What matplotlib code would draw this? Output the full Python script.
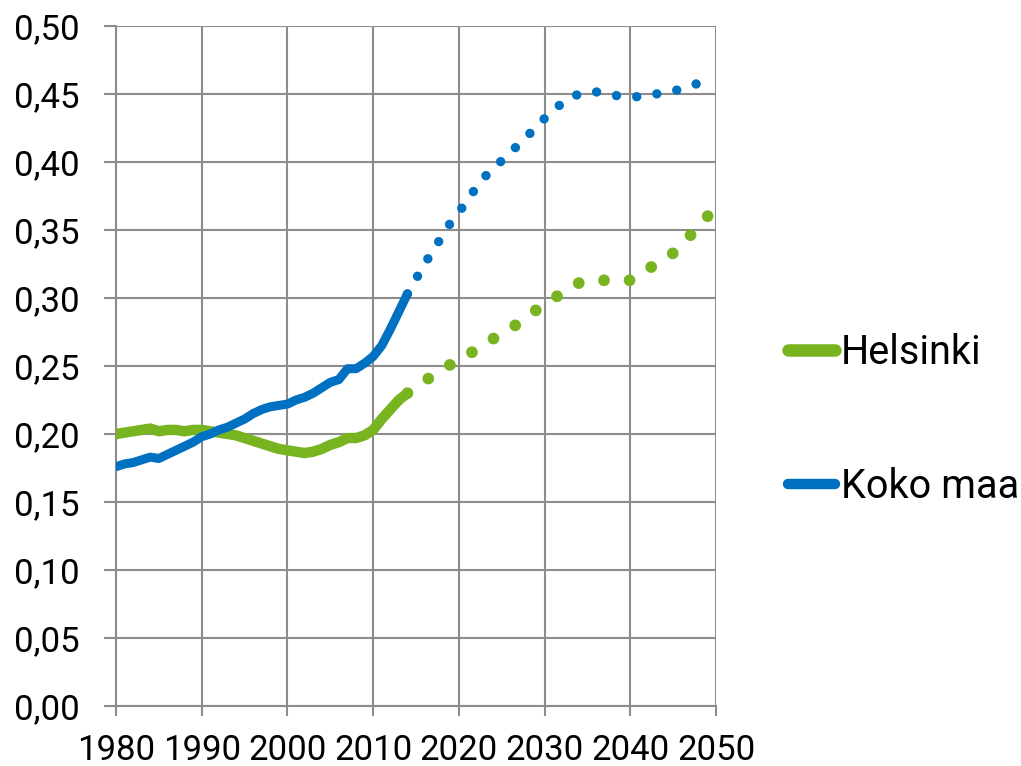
import matplotlib
matplotlib.use('Agg')
import matplotlib.pyplot as plt
from matplotlib.ticker import FuncFormatter
from matplotlib.lines import Line2D

# observed, 1980-2014
years_obs = list(range(1980, 2015))
helsinki_obs = [0.200, 0.201, 0.202, 0.203, 0.204, 0.202, 0.203, 0.203, 0.202, 0.203,
                0.203, 0.202, 0.201, 0.200, 0.199, 0.197, 0.195, 0.193, 0.191, 0.189,
                0.188, 0.187, 0.186, 0.187, 0.189, 0.192, 0.194, 0.197, 0.197, 0.199,
                0.203, 0.211, 0.218, 0.225, 0.230]
koko_obs = [0.176, 0.178, 0.179, 0.181, 0.183, 0.182, 0.185, 0.188, 0.191, 0.194,
            0.198, 0.200, 0.203, 0.205, 0.208, 0.211, 0.215, 0.218, 0.220, 0.221,
            0.222, 0.225, 0.227, 0.230, 0.234, 0.238, 0.240, 0.248, 0.248, 0.252,
            0.257, 0.265, 0.277, 0.290, 0.303]

# projections
years_helsinki_proj = list(range(2014, 2051))
helsinki_proj = [0.230, 0.235, 0.239, 0.243, 0.247, 0.251, 0.255, 0.258, 0.262, 0.266,
                 0.270, 0.274, 0.277, 0.282, 0.287, 0.291, 0.295, 0.299, 0.304, 0.308,
                 0.311, 0.312, 0.313, 0.313, 0.313, 0.313, 0.313, 0.317, 0.321, 0.325,
                 0.329, 0.333, 0.339, 0.346, 0.353, 0.360, 0.366]
years_koko_proj = list(range(2014, 2050))
koko_proj = [0.303, 0.314, 0.325, 0.335, 0.345, 0.355, 0.363, 0.372, 0.381, 0.389,
             0.395, 0.401, 0.407, 0.413, 0.419, 0.426, 0.432, 0.438, 0.443, 0.447,
             0.450, 0.451, 0.4515, 0.451, 0.449, 0.4485, 0.448, 0.448, 0.449, 0.450,
             0.451, 0.452, 0.454, 0.456, 0.458, 0.459]

labels = ['Helsinki', 'Koko maa']
green = '#78B41F'
blue = '#0070C0'
grid_col = '#8C8C8C'

plt.rcParams['font.family'] = ['Roboto', 'DejaVu Sans']

fig = plt.figure(figsize=(10.21, 7.66), dpi=100)
ax = fig.add_axes([0.1136, 0.0783, 0.5877, 0.8878])

ax.plot(years_obs, helsinki_obs, color=green, lw=7.5, solid_capstyle='round',
        solid_joinstyle='round', zorder=3)
ax.plot(years_obs, koko_obs, color=blue, lw=6.5, solid_capstyle='round',
        solid_joinstyle='round', zorder=4)
ax.plot(years_helsinki_proj, helsinki_proj, color=green, lw=8.5, linestyle=(0, (0.001, 2.16)),
        dash_capstyle='round', zorder=3, clip_on=False)
ax.plot(years_koko_proj, koko_proj, color=blue, lw=6.8, linestyle=(0, (0.001, 2.15)),
        dash_capstyle='round', zorder=4, clip_on=False)

ax.set_xlim(1980, 2050)
ax.set_ylim(0, 0.5)
ax.set_xticks(range(1980, 2051, 10))
ax.set_yticks([i * 0.05 for i in range(11)])
ax.yaxis.set_major_formatter(FuncFormatter(lambda v, p: ('%.2f' % v).replace('.', ',')))

ax.grid(True, color=grid_col, lw=1.5)
ax.set_axisbelow(True)
for s in ['top', 'right']:
    ax.spines[s].set_visible(False)
for s in ['left', 'bottom']:
    ax.spines[s].set_color(grid_col)
    ax.spines[s].set_linewidth(1.5)
ax.tick_params(axis='both', colors=grid_col, width=1.5, labelcolor='black', labelsize=25)
ax.tick_params(axis='y', length=9, pad=17)
ax.tick_params(axis='x', length=7, pad=13.5)

handles = [Line2D([], [], color=green, lw=9, solid_capstyle='round'),
           Line2D([], [], color=blue, lw=7.5, solid_capstyle='round')]
fig.legend(handles, labels, loc='center left', bbox_to_anchor=(0.752, 0.453),
           frameon=False, fontsize=28.5, handlelength=1.2, handletextpad=0.15,
           labelspacing=2.4, borderpad=0)

fig.savefig('out.png', dpi=100)
plt.close(fig)
